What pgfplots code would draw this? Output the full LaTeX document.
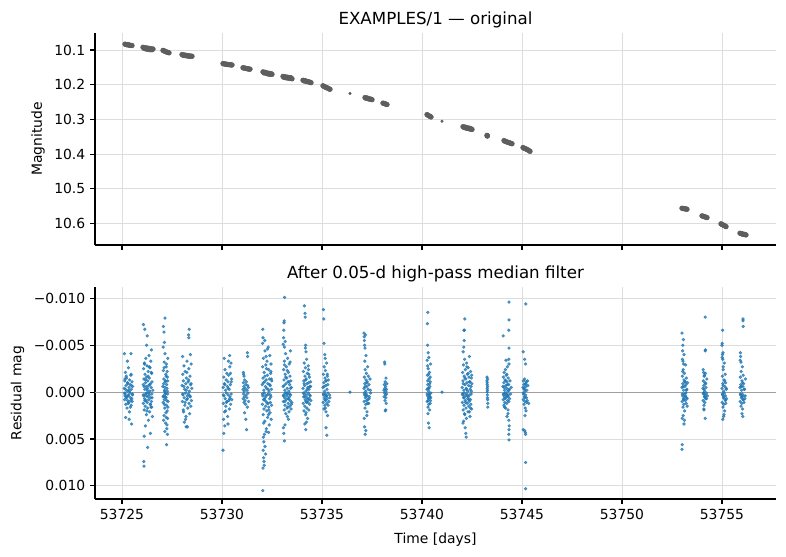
\documentclass[border=0pt]{standalone}
\usepackage{fontspec}
\setmainfont{DejaVu Sans}
\usepackage{pgfplots}
\pgfplotsset{compat=1.18}
\definecolor{mplblue}{HTML}{1F77B4}
\definecolor{ptgray}{HTML}{5E5E5E}
\definecolor{gridgray}{HTML}{DDDDDD}

\pgfplotsset{
  lcpanel/.style={
    scale only axis, width=490.3pt, height=152.6pt,
    xmin=53723.65, xmax=53757.7,
    y dir=reverse,
    axis lines*=left,
    axis line style={line width=0.8pt, black},
    tick align=outside, major tick length=3.5pt,
    every tick/.style={black, line width=0.8pt},
    xtick={53725,53730,53735,53740,53745,53750,53755},
    grid=major, grid style={gridgray, line width=0.6pt},
    tick label style={font=\fontsize{10}{12}\selectfont},
    label style={font=\fontsize{10}{12}\selectfont},
    xlabel style={yshift=-3pt},
    title style={font=\fontsize{12}{14}\selectfont, yshift=-6pt},
    /pgf/number format/assume math mode=true,
    scaled ticks=false,
  },
  resid/.style={only marks, mark=*, mark size=1.0pt, color=mplblue, opacity=0.75},
  mags/.style={only marks, mark=*, mark size=1.7pt, color=ptgray},
}

\begin{document}
\begin{tikzpicture}
\useasboundingbox (-68.4pt,-41.04pt) rectangle (497.5pt,359.3pt);

% ---------- upper panel: raw light curve ----------
\begin{axis}[lcpanel,
  at={(0pt,182.9pt)}, anchor=south west,
  ymin=10.051, ymax=10.662,
  ytick={10.1,10.2,10.3,10.4,10.5,10.6},
  yticklabels={10.1,10.2,10.3,10.4,10.5,10.6},
  xticklabels={},
  ylabel={Magnitude},
  title={EXAMPLES/1 — original},
]
\addplot[mags] coordinates {
(53725.15,10.083) (53725.20,10.084) (53725.25,10.085) (53725.30,10.084) (53725.35,10.086) (53725.40,10.086) (53725.45,10.087) (53725.50,10.087)
(53726.05,10.092) (53726.10,10.095) (53726.15,10.093) (53726.20,10.097) (53726.25,10.094) (53726.30,10.098) (53726.35,10.095) (53726.40,10.099) (53726.45,10.096) (53726.50,10.099) (53726.55,10.097)
(53727.05,10.101) (53727.10,10.102) (53727.15,10.104) (53727.20,10.105) (53727.25,10.106) (53727.30,10.107) (53727.35,10.108)
(53728.00,10.113) (53728.05,10.115) (53728.10,10.114) (53728.15,10.116) (53728.20,10.115) (53728.25,10.117) (53728.30,10.116) (53728.35,10.118) (53728.40,10.117) (53728.45,10.118) (53728.50,10.118)
(53730.05,10.139) (53730.10,10.140) (53730.15,10.140) (53730.20,10.141) (53730.25,10.141) (53730.30,10.142) (53730.35,10.142) (53730.40,10.142) (53730.45,10.143) (53730.50,10.143)
(53731.05,10.151) (53731.10,10.152) (53731.15,10.152) (53731.20,10.153) (53731.25,10.154) (53731.30,10.154) (53731.35,10.155) (53731.40,10.155)
(53732.05,10.163) (53732.10,10.166) (53732.15,10.164) (53732.20,10.167) (53732.25,10.166) (53732.30,10.169) (53732.35,10.167) (53732.40,10.170) (53732.45,10.168) (53732.50,10.170)
(53733.05,10.176) (53733.10,10.179) (53733.15,10.177) (53733.20,10.180) (53733.25,10.178) (53733.30,10.181) (53733.35,10.179) (53733.40,10.182) (53733.45,10.180) (53733.50,10.183)
(53734.05,10.187) (53734.10,10.189) (53734.15,10.188) (53734.20,10.190) (53734.25,10.191) (53734.30,10.191) (53734.35,10.192) (53734.40,10.193) (53734.45,10.194)
(53735.05,10.203) (53735.10,10.205) (53735.15,10.206) (53735.20,10.208) (53735.25,10.209) (53735.30,10.210) (53735.35,10.212) (53735.40,10.213)
(53737.15,10.237) (53737.20,10.239) (53737.25,10.238) (53737.30,10.240) (53737.35,10.241) (53737.40,10.241) (53737.45,10.242) (53737.50,10.243)
(53738.05,10.253) (53738.10,10.254) (53738.15,10.255) (53738.20,10.256) (53738.25,10.257)
(53740.25,10.286) (53740.30,10.288) (53740.35,10.290) (53740.40,10.291) (53740.45,10.293)
(53742.05,10.321) (53742.10,10.323) (53742.15,10.322) (53742.20,10.325) (53742.25,10.324) (53742.30,10.326) (53742.35,10.325) (53742.40,10.328) (53742.45,10.327) (53742.50,10.329)
(53743.25,10.346) (53743.26,10.347) (53743.27,10.348)
(53744.10,10.361) (53744.15,10.363) (53744.20,10.364) (53744.25,10.365) (53744.30,10.366) (53744.35,10.367) (53744.40,10.368) (53744.45,10.369) (53744.50,10.370)
(53745.05,10.381) (53745.10,10.383) (53745.15,10.384) (53745.20,10.385) (53745.25,10.387) (53745.30,10.388) (53745.35,10.390) (53745.40,10.392)
(53753.00,10.556) (53753.05,10.557) (53753.10,10.557) (53753.15,10.558) (53753.20,10.558) (53753.25,10.559)
(53754.00,10.578) (53754.05,10.579) (53754.10,10.580) (53754.15,10.581) (53754.20,10.582) (53754.25,10.583)
(53754.95,10.601) (53755.00,10.603) (53755.05,10.604) (53755.10,10.606) (53755.15,10.607) (53755.20,10.609)
(53755.90,10.628) (53755.95,10.629) (53756.00,10.630) (53756.05,10.631) (53756.10,10.631) (53756.15,10.632) (53756.20,10.633)
};
% isolated single exposures
\addplot[only marks, mark=*, mark size=0.9pt, color=ptgray] coordinates {(53736.40,10.225) (53741.00,10.305)};
\end{axis}

% ---------- lower panel: residuals after filtering ----------
\begin{axis}[lcpanel,
  at={(0pt,0pt)}, anchor=south west,
  ymin=-0.0112, ymax=0.0114,
  ytick={-0.01,-0.005,0,0.005,0.01},
  yticklabels={−0.010,−0.005,0.000,0.005,0.010},
  xticklabels={53725,53730,53735,53740,53745,53750,53755},
  xlabel={Time [days]},
  ylabel={Residual mag},
  title={After 0.05-d high-pass median filter},
]
% nights 1-4
\addplot[resid] coordinates {
(53725.11,-0.0004) (53725.13,0.0008) (53725.14,-0.0012) (53725.16,0.0002) (53725.17,-0.0021) (53725.19,0.0013) (53725.20,-0.0007) (53725.22,0.0005) (53725.23,-0.0015) (53725.25,0.0017) (53725.26,-0.0001) (53725.28,0.0009) (53725.29,-0.0009) (53725.31,0.0003) (53725.32,-0.0026) (53725.34,0.0011) (53725.35,-0.0005) (53725.37,0.0021) (53725.38,-0.0013) (53725.40,0.0001) (53725.41,-0.0008) (53725.43,0.0006) (53725.44,-0.0018) (53725.46,0.0014) (53725.47,-0.0003) (53725.49,0.0007) (53725.50,-0.0011) (53725.52,0.0002) (53725.53,-0.0006) (53725.12,-0.0041) (53725.45,-0.0041) (53725.18,0.0027) (53725.48,0.0034) (53725.27,-0.0033) (53725.36,0.0029) (53725.21,-0.0017) (53725.42,0.0016) (53725.15,0.0004) (53725.33,-0.0002) (53725.51,0.0010)
(53726.06,-0.0008) (53726.07,0.0012) (53726.08,-0.0025) (53726.09,0.0004) (53726.10,-0.0014) (53726.11,0.0019) (53726.12,-0.0031) (53726.13,0.0007) (53726.14,-0.0003) (53726.15,-0.0019) (53726.16,0.0015) (53726.17,-0.0010) (53726.18,0.0002) (53726.19,-0.0036) (53726.20,0.0009) (53726.21,-0.0006) (53726.22,0.0024) (53726.23,-0.0016) (53726.24,0.0001) (53726.25,-0.0028) (53726.26,0.0011) (53726.27,-0.0004) (53726.28,0.0017) (53726.29,-0.0012) (53726.30,0.0005) (53726.31,-0.0022) (53726.32,0.0030) (53726.33,-0.0007) (53726.34,0.0008) (53726.35,-0.0039) (53726.36,0.0003) (53726.37,-0.0015) (53726.38,0.0021) (53726.39,-0.0001) (53726.40,-0.0026) (53726.41,0.0013) (53726.42,-0.0009) (53726.43,0.0006) (53726.44,-0.0033) (53726.45,0.0016) (53726.46,-0.0005) (53726.47,0.0010) (53726.48,-0.0020) (53726.49,0.0002) (53726.50,-0.0011) (53726.52,0.0026) (53726.54,-0.0002) (53726.07,-0.0072) (53726.14,-0.0067) (53726.26,-0.0060) (53726.23,-0.0050) (53726.11,0.0047) (53726.28,0.0059) (53726.09,0.0074) (53726.10,0.0079) (53726.42,0.0044) (53726.17,0.0036) (53726.47,-0.0045)
(53727.05,-0.0006) (53727.06,0.0011) (53727.07,-0.0023) (53727.08,0.0004) (53727.09,-0.0014) (53727.10,0.0025) (53727.11,-0.0032) (53727.12,0.0008) (53727.13,-0.0002) (53727.14,0.0017) (53727.15,-0.0041) (53727.16,0.0001) (53727.17,-0.0011) (53727.18,0.0033) (53727.19,-0.0019) (53727.20,0.0006) (53727.21,-0.0027) (53727.22,0.0014) (53727.23,-0.0008) (53727.24,0.0039) (53727.25,-0.0004) (53727.26,0.0020) (53727.27,-0.0016) (53727.28,0.0002) (53727.29,-0.0036) (53727.30,0.0010) (53727.06,-0.0048) (53727.08,0.0030) (53727.12,-0.0053) (53727.14,0.0042) (53727.18,-0.0012) (53727.20,0.0022) (53727.22,-0.0030) (53727.25,0.0035) (53727.27,0.0045) (53727.10,-0.0064) (53727.07,-0.0070) (53727.15,-0.0079) (53727.23,0.0056) (53727.28,0.0028) (53727.13,-0.0001) (53727.17,0.0005) (53727.26,-0.0022)
(53728.01,-0.0007) (53728.02,0.0010) (53728.04,-0.0019) (53728.05,0.0003) (53728.07,-0.0012) (53728.08,0.0021) (53728.10,-0.0028) (53728.11,0.0006) (53728.13,-0.0003) (53728.14,0.0014) (53728.16,-0.0022) (53728.17,0.0001) (53728.19,-0.0009) (53728.20,0.0026) (53728.22,-0.0015) (53728.23,0.0008) (53728.25,-0.0033) (53728.26,0.0004) (53728.28,-0.0005) (53728.29,0.0017) (53728.31,-0.0011) (53728.32,0.0002) (53728.34,-0.0025) (53728.35,0.0012) (53728.37,-0.0001) (53728.38,0.0023) (53728.40,-0.0017) (53728.41,0.0005) (53728.43,-0.0008) (53728.44,0.0015) (53728.46,-0.0030) (53728.47,0.0009) (53728.49,-0.0004) (53728.03,-0.0038) (53728.12,0.0032) (53728.21,0.0037) (53728.27,0.0037) (53728.33,-0.0061) (53728.34,-0.0058) (53728.36,-0.0067) (53728.42,-0.0040) (53728.18,0.0029)
};
% nights 5-10
\addplot[resid] coordinates {
(53730.06,-0.0005) (53730.07,0.0012) (53730.09,-0.0016) (53730.10,0.0004) (53730.12,-0.0009) (53730.13,0.0021) (53730.15,-0.0024) (53730.16,0.0007) (53730.18,-0.0002) (53730.19,0.0015) (53730.21,-0.0013) (53730.22,0.0001) (53730.24,-0.0020) (53730.25,0.0010) (53730.27,-0.0006) (53730.28,0.0026) (53730.30,-0.0011) (53730.31,0.0003) (53730.33,-0.0018) (53730.34,0.0009) (53730.36,-0.0003) (53730.37,0.0018) (53730.39,-0.0027) (53730.40,0.0005) (53730.42,-0.0008) (53730.43,0.0013) (53730.45,-0.0031) (53730.46,0.0002) (53730.48,-0.0014) (53730.49,0.0008) (53730.11,-0.0036) (53730.38,-0.0039) (53730.08,0.0029) (53730.30,0.0034) (53730.09,0.0044) (53730.14,0.0036) (53730.05,0.0062) (53730.32,-0.0033)
(53731.05,-0.0003) (53731.06,0.0007) (53731.07,-0.0010) (53731.08,0.0002) (53731.09,-0.0006) (53731.10,0.0011) (53731.11,-0.0001) (53731.12,0.0005) (53731.13,-0.0013) (53731.15,0.0009) (53731.16,-0.0004) (53731.18,0.0013) (53731.19,-0.0008) (53731.21,0.0003) (53731.22,-0.0011) (53731.24,0.0006) (53731.25,-0.0002) (53731.27,0.0016) (53731.28,-0.0007) (53731.30,0.0001) (53731.32,-0.0005) (53731.33,0.0010) (53731.07,-0.0021) (53731.10,-0.0017) (53731.13,0.0022) (53731.19,0.0029) (53731.27,-0.0042) (53731.28,-0.0038) (53731.23,0.0040) (53731.08,-0.0019)
(53732.01,-0.0008) (53732.02,0.0013) (53732.03,-0.0027) (53732.04,0.0004) (53732.05,-0.0015) (53732.06,0.0024) (53732.07,-0.0036) (53732.08,0.0008) (53732.09,-0.0002) (53732.10,0.0018) (53732.11,-0.0021) (53732.12,0.0001) (53732.13,-0.0011) (53732.14,0.0031) (53732.15,-0.0044) (53732.16,0.0006) (53732.17,-0.0006) (53732.18,0.0015) (53732.19,-0.0029) (53732.20,0.0010) (53732.21,-0.0013) (53732.22,0.0039) (53732.23,-0.0004) (53732.24,0.0020) (53732.25,-0.0033) (53732.26,0.0003) (53732.27,-0.0018) (53732.28,0.0027) (53732.29,-0.0009) (53732.30,0.0012) (53732.31,-0.0048) (53732.32,0.0002) (53732.33,-0.0024) (53732.34,0.0016) (53732.35,-0.0001) (53732.36,0.0035) (53732.37,-0.0014) (53732.38,0.0007) (53732.39,-0.0039) (53732.40,0.0022) (53732.41,-0.0007) (53732.42,0.0011) (53732.43,-0.0020) (53732.44,0.0005) (53732.45,-0.0030) (53732.46,0.0029) (53732.47,-0.0003) (53732.48,0.0014) (53732.49,-0.0012) (53732.03,-0.0052) (53732.05,-0.0058) (53732.04,-0.0067) (53732.12,0.0045) (53732.07,0.0048) (53732.09,0.0053) (53732.15,0.0058) (53732.06,0.0062) (53732.08,0.0070) (53732.10,0.0074) (53732.05,0.0081) (53732.11,0.0078) (53732.18,0.0066) (53732.04,0.0105) (53732.21,0.0042) (53732.28,-0.0046) (53732.33,0.0043) (53732.14,-0.0055)
(53733.06,-0.0006) (53733.07,0.0010) (53733.08,-0.0024) (53733.09,0.0003) (53733.10,-0.0013) (53733.11,0.0019) (53733.12,-0.0033) (53733.13,0.0006) (53733.14,-0.0002) (53733.15,0.0014) (53733.16,-0.0019) (53733.17,0.0001) (53733.18,-0.0041) (53733.19,0.0023) (53733.20,-0.0009) (53733.21,0.0008) (53733.22,-0.0027) (53733.23,0.0004) (53733.24,-0.0015) (53733.25,0.0017) (53733.26,-0.0004) (53733.27,0.0026) (53733.28,-0.0036) (53733.29,0.0002) (53733.30,-0.0011) (53733.31,0.0012) (53733.32,-0.0021) (53733.33,0.0007) (53733.34,-0.0001) (53733.35,0.0021) (53733.36,-0.0030) (53733.37,0.0005) (53733.38,-0.0008) (53733.39,0.0015) (53733.40,-0.0017) (53733.41,0.0009) (53733.42,-0.0044) (53733.43,0.0003) (53733.44,-0.0012) (53733.45,0.0018) (53733.47,-0.0005) (53733.49,0.0011) (53733.06,-0.0051) (53733.08,-0.0058) (53733.09,-0.0066) (53733.10,-0.0074) (53733.11,-0.0076) (53733.13,-0.0101) (53733.12,-0.0048) (53733.16,-0.0054) (53733.07,0.0038) (53733.09,0.0044) (53733.12,0.0052) (53733.15,0.0035) (53733.32,0.0029)
(53734.05,-0.0004) (53734.06,0.0012) (53734.07,-0.0022) (53734.08,0.0005) (53734.09,-0.0012) (53734.10,0.0020) (53734.11,-0.0031) (53734.12,0.0002) (53734.13,-0.0007) (53734.14,0.0015) (53734.15,-0.0017) (53734.16,0.0008) (53734.17,-0.0026) (53734.18,0.0024) (53734.19,-0.0001) (53734.20,0.0010) (53734.21,-0.0014) (53734.22,0.0003) (53734.23,-0.0035) (53734.24,0.0017) (53734.25,-0.0009) (53734.26,0.0006) (53734.27,-0.0020) (53734.28,0.0028) (53734.29,-0.0005) (53734.30,0.0011) (53734.31,-0.0028) (53734.32,0.0001) (53734.33,-0.0010) (53734.34,0.0019) (53734.35,-0.0003) (53734.36,0.0007) (53734.37,-0.0016) (53734.38,0.0013) (53734.39,-0.0006) (53734.41,0.0004) (53734.43,-0.0011) (53734.44,0.0009) (53734.12,-0.0092) (53734.15,-0.0084) (53734.16,-0.0080) (53734.18,-0.0050) (53734.17,-0.0047) (53734.20,-0.0043) (53734.14,0.0034) (53734.19,0.0040) (53734.22,0.0032)
(53735.05,-0.0005) (53735.06,0.0011) (53735.07,-0.0019) (53735.08,0.0003) (53735.09,-0.0010) (53735.10,0.0018) (53735.11,-0.0027) (53735.12,0.0006) (53735.13,-0.0001) (53735.14,0.0014) (53735.15,-0.0015) (53735.16,0.0002) (53735.17,-0.0023) (53735.18,0.0009) (53735.19,-0.0007) (53735.20,0.0021) (53735.21,-0.0012) (53735.22,0.0004) (53735.23,-0.0031) (53735.24,0.0012) (53735.25,-0.0003) (53735.26,0.0007) (53735.27,-0.0017) (53735.28,0.0025) (53735.29,-0.0008) (53735.30,0.0001) (53735.32,-0.0013) (53735.34,0.0010) (53735.38,0.0003) (53735.39,0.0006) (53735.07,-0.0088) (53735.09,-0.0078) (53735.10,-0.0052) (53735.14,-0.0040) (53735.20,0.0038) (53735.24,0.0046) (53735.16,-0.0036)
};
% nights 11-17
\addplot[resid] coordinates {
(53736.40,0.0000) (53741.00,0.0000)
(53737.10,-0.0004) (53737.11,0.0010) (53737.12,-0.0016) (53737.13,0.0003) (53737.14,-0.0009) (53737.15,0.0017) (53737.16,-0.0024) (53737.17,0.0006) (53737.18,-0.0001) (53737.19,0.0013) (53737.20,-0.0013) (53737.21,0.0002) (53737.22,-0.0020) (53737.23,0.0009) (53737.24,-0.0006) (53737.25,0.0021) (53737.26,-0.0011) (53737.27,0.0004) (53737.28,-0.0027) (53737.29,0.0008) (53737.31,-0.0003) (53737.33,0.0012) (53737.35,-0.0008) (53737.37,0.0005) (53737.40,-0.0014) (53737.43,0.0001) (53737.10,-0.0063) (53737.11,-0.0059) (53737.12,-0.0055) (53737.13,-0.0050) (53737.15,-0.0047) (53737.17,-0.0061) (53737.14,-0.0033) (53737.20,-0.0039) (53737.11,0.0028) (53737.13,0.0037) (53737.16,0.0045) (53737.19,0.0041) (53737.24,0.0025)
(53738.10,-0.0002) (53738.11,0.0005) (53738.12,-0.0008) (53738.13,0.0001) (53738.14,-0.0004) (53738.15,0.0009) (53738.16,-0.0011) (53738.17,0.0003) (53738.18,-0.0006) (53738.19,0.0006) (53738.20,-0.0001) (53738.21,0.0012) (53738.22,-0.0003) (53738.23,0.0002) (53738.24,-0.0009) (53738.13,-0.0032) (53738.14,-0.0030) (53738.19,0.0019) (53738.16,0.0020) (53738.20,-0.0015)
(53740.25,-0.0003) (53740.26,0.0010) (53740.27,-0.0018) (53740.28,0.0004) (53740.29,-0.0008) (53740.30,0.0016) (53740.31,-0.0025) (53740.32,0.0007) (53740.33,-0.0001) (53740.34,0.0013) (53740.35,-0.0014) (53740.36,0.0002) (53740.37,-0.0021) (53740.38,0.0019) (53740.39,-0.0006) (53740.40,0.0005) (53740.41,-0.0011) (53740.42,0.0009) (53740.43,-0.0030) (53740.44,0.0001) (53740.26,-0.0034) (53740.28,-0.0028) (53740.30,0.0023) (53740.33,-0.0019) (53740.35,0.0006) (53740.38,-0.0009) (53740.41,0.0012) (53740.29,-0.0085) (53740.27,-0.0073) (53740.28,-0.0050) (53740.31,-0.0042) (53740.34,-0.0037) (53740.32,0.0033) (53740.36,0.0038) (53740.30,-0.0004)
(53742.01,-0.0005) (53742.02,0.0011) (53742.03,-0.0021) (53742.04,0.0003) (53742.05,-0.0012) (53742.06,0.0019) (53742.07,-0.0029) (53742.08,0.0006) (53742.09,-0.0002) (53742.10,0.0014) (53742.11,-0.0017) (53742.12,0.0001) (53742.13,-0.0035) (53742.14,0.0024) (53742.15,-0.0008) (53742.16,0.0009) (53742.17,-0.0024) (53742.18,0.0004) (53742.19,-0.0014) (53742.20,0.0017) (53742.21,-0.0004) (53742.22,0.0028) (53742.23,-0.0031) (53742.24,0.0002) (53742.25,-0.0010) (53742.26,0.0012) (53742.27,-0.0019) (53742.28,0.0007) (53742.29,-0.0001) (53742.30,0.0021) (53742.31,-0.0026) (53742.32,0.0005) (53742.33,-0.0007) (53742.34,0.0015) (53742.35,-0.0016) (53742.36,0.0010) (53742.37,-0.0038) (53742.38,0.0003) (53742.39,-0.0011) (53742.40,0.0026) (53742.41,-0.0003) (53742.42,0.0008) (53742.43,-0.0022) (53742.44,0.0013) (53742.45,-0.0006) (53742.46,0.0002) (53742.47,-0.0015) (53742.48,0.0018) (53742.49,-0.0009) (53742.06,-0.0043) (53742.09,-0.0048) (53742.11,-0.0055) (53742.10,-0.0066) (53742.12,-0.0066) (53742.14,-0.0078) (53742.05,0.0033) (53742.16,0.0038) (53742.19,0.0044) (53742.21,0.0048) (53742.08,0.0031)
(53743.25,-0.0016) (53743.25,-0.0012) (53743.26,-0.0008) (53743.26,-0.0004) (53743.26,0.0000) (53743.27,0.0003) (53743.27,-0.0002) (53743.27,0.0006) (53743.28,0.0008) (53743.28,-0.0006) (53743.28,-0.0014) (53743.29,0.0012) (53743.29,0.0016) (53743.26,-0.0010)
(53744.05,-0.0006) (53744.06,0.0008) (53744.07,-0.0016) (53744.08,0.0003) (53744.09,-0.0010) (53744.10,0.0014) (53744.11,-0.0021) (53744.12,0.0005) (53744.13,-0.0002) (53744.14,0.0011) (53744.15,-0.0013) (53744.16,0.0001) (53744.17,-0.0024) (53744.18,0.0017) (53744.19,-0.0007) (53744.20,0.0006) (53744.21,-0.0018) (53744.22,0.0002) (53744.23,-0.0004) (53744.24,0.0012) (53744.25,-0.0011) (53744.26,0.0004) (53744.27,-0.0027) (53744.28,0.0009) (53744.29,-0.0001) (53744.30,0.0019) (53744.31,-0.0015) (53744.32,0.0003) (53744.33,-0.0008) (53744.34,0.0010) (53744.36,-0.0003) (53744.38,0.0007) (53744.40,-0.0012) (53744.43,0.0002) (53744.46,-0.0005) (53744.06,-0.0060) (53744.35,-0.0096) (53744.35,-0.0077) (53744.34,-0.0066) (53744.35,-0.0047) (53744.34,-0.0035) (53744.35,-0.0030) (53744.34,0.0030) (53744.36,0.0036) (53744.35,0.0040) (53744.34,0.0045) (53744.35,0.0051) (53744.25,0.0026) (53744.30,0.0023) (53744.20,-0.0034)
(53745.05,-0.0005) (53745.06,0.0008) (53745.07,-0.0012) (53745.08,0.0002) (53745.09,-0.0008) (53745.10,0.0013) (53745.11,-0.0003) (53745.12,0.0005) (53745.13,-0.0014) (53745.14,0.0010) (53745.15,-0.0001) (53745.16,0.0017) (53745.17,-0.0009) (53745.18,0.0003) (53745.19,-0.0006) (53745.20,0.0020) (53745.21,-0.0011) (53745.22,0.0006) (53745.24,-0.0002) (53745.26,0.0009) (53745.29,-0.0007) (53745.33,0.0012) (53745.06,-0.0043) (53745.13,-0.0035) (53745.18,-0.0030) (53745.06,0.0040) (53745.13,0.0041) (53745.17,0.0043) (53745.18,0.0045) (53745.19,-0.0094) (53745.18,0.0075) (53745.18,0.0103) (53745.15,0.0025)
};
% nights 18-21
\addplot[resid] coordinates {
(53753.00,-0.0005) (53753.01,0.0010) (53753.02,-0.0017) (53753.03,0.0004) (53753.04,-0.0009) (53753.05,0.0016) (53753.06,-0.0024) (53753.07,0.0007) (53753.08,-0.0002) (53753.09,0.0013) (53753.10,-0.0013) (53753.11,0.0002) (53753.12,-0.0020) (53753.13,0.0020) (53753.14,-0.0006) (53753.15,0.0005) (53753.16,-0.0011) (53753.17,0.0009) (53753.18,-0.0029) (53753.19,0.0001) (53753.20,-0.0008) (53753.21,0.0012) (53753.22,-0.0015) (53753.23,0.0006) (53753.24,-0.0003) (53753.26,0.0015) (53753.28,-0.0010) (53753.02,-0.0035) (53753.05,-0.0033) (53753.08,-0.0030) (53753.10,-0.0040) (53753.03,-0.0044) (53753.04,-0.0050) (53753.00,-0.0063) (53753.07,-0.0056) (53753.01,0.0028) (53753.06,0.0025) (53753.12,0.0030) (53753.01,0.0056) (53753.00,0.0061) (53753.10,0.0034)
(53754.05,-0.0004) (53754.06,0.0009) (53754.07,-0.0012) (53754.08,0.0002) (53754.09,-0.0007) (53754.10,0.0014) (53754.11,-0.0017) (53754.12,0.0005) (53754.13,-0.0001) (53754.14,0.0011) (53754.15,-0.0010) (53754.16,0.0003) (53754.17,-0.0020) (53754.18,0.0007) (53754.20,-0.0005) (53754.22,0.0001) (53754.24,-0.0014) (53754.27,0.0004) (53754.06,-0.0024) (53754.08,-0.0021) (53754.10,0.0019) (53754.16,0.0028) (53754.16,-0.0044) (53754.17,-0.0045) (53754.16,-0.0080) (53754.12,-0.0018) (53754.09,0.0018)
(53755.00,-0.0004) (53755.01,0.0011) (53755.02,-0.0017) (53755.03,0.0003) (53755.04,-0.0009) (53755.05,0.0016) (53755.06,-0.0024) (53755.07,0.0006) (53755.08,-0.0001) (53755.09,0.0013) (53755.10,-0.0013) (53755.11,0.0001) (53755.12,-0.0031) (53755.13,0.0020) (53755.14,-0.0006) (53755.15,0.0008) (53755.16,-0.0019) (53755.17,0.0004) (53755.18,-0.0010) (53755.19,0.0012) (53755.21,-0.0003) (53755.23,0.0007) (53755.01,-0.0037) (53755.02,-0.0040) (53755.04,-0.0035) (53755.05,-0.0042) (53755.06,-0.0027) (53755.10,0.0024) (53755.04,0.0029) (53755.00,-0.0050) (53755.01,-0.0052) (53755.03,-0.0066) (53755.08,0.0026)
(53755.90,-0.0005) (53755.91,0.0010) (53755.92,-0.0016) (53755.93,0.0003) (53755.94,-0.0008) (53755.95,0.0015) (53755.96,-0.0022) (53755.97,0.0006) (53755.98,-0.0002) (53755.99,0.0012) (53756.00,-0.0012) (53756.01,0.0002) (53756.02,-0.0027) (53756.03,0.0018) (53756.04,-0.0006) (53756.05,0.0008) (53756.06,-0.0018) (53756.07,0.0004) (53756.08,-0.0009) (53756.10,0.0011) (53756.12,-0.0003) (53756.14,0.0007) (53756.17,-0.0014) (53755.91,-0.0034) (53755.93,-0.0038) (53755.95,-0.0032) (53756.00,0.0023) (53756.04,0.0026) (53756.05,-0.0076) (53756.06,-0.0070) (53756.05,-0.0078) (53755.92,-0.0042)
};
% interleaved exposures filling the dense cores of each night
\addplot[resid] coordinates {
(53725.125,0.0001) (53725.175,-0.0003) (53725.225,0.0006) (53725.275,-0.0010) (53725.325,0.0004) (53725.375,-0.0001) (53725.425,0.0009) (53725.475,-0.0007) (53725.525,0.0003) (53725.145,-0.0014) (53725.305,0.0012) (53725.455,-0.0019)
(53726.065,0.0003) (53726.105,-0.0006) (53726.145,0.0009) (53726.185,-0.0013) (53726.225,0.0004) (53726.265,-0.0002) (53726.305,-0.0017) (53726.345,0.0001) (53726.385,-0.0008) (53726.425,0.0013) (53726.465,-0.0021) (53726.505,0.0006) (53726.125,-0.0030) (53726.245,0.0020) (53726.365,-0.0027) (53726.485,0.0016)
(53727.055,0.0005) (53727.085,-0.0009) (53727.115,0.0013) (53727.145,-0.0005) (53727.175,0.0002) (53727.205,-0.0017) (53727.235,0.0009) (53727.265,-0.0001) (53727.295,0.0016) (53727.105,-0.0026) (53727.215,0.0027) (53727.285,-0.0012)
(53728.035,0.0002) (53728.095,-0.0006) (53728.155,0.0011) (53728.215,-0.0002) (53728.275,0.0007) (53728.335,-0.0013) (53728.395,0.0004) (53728.455,-0.0009) (53728.065,0.0019) (53728.245,-0.0021)
(53730.065,0.0003) (53730.145,-0.0008) (53730.225,0.0011) (53730.305,-0.0004) (53730.385,0.0007) (53730.465,-0.0011) (53730.185,0.0020) (53730.425,-0.0020)
(53732.025,0.0002) (53732.065,-0.0010) (53732.105,0.0008) (53732.145,-0.0017) (53732.185,0.0004) (53732.225,-0.0025) (53732.265,0.0012) (53732.305,-0.0003) (53732.345,0.0019) (53732.385,-0.0008) (53732.425,0.0003) (53732.465,-0.0014) (53732.085,0.0033) (53732.205,-0.0038) (53732.325,0.0024) (53732.445,-0.0022)
(53733.065,0.0004) (53733.105,-0.0007) (53733.145,0.0010) (53733.185,-0.0016) (53733.225,0.0001) (53733.265,-0.0023) (53733.305,0.0007) (53733.345,-0.0011) (53733.385,0.0002) (53733.425,-0.0004) (53733.465,0.0013) (53733.125,-0.0029) (53733.285,0.0016) (53733.405,-0.0032)
(53734.065,0.0001) (53734.105,-0.0009) (53734.145,0.0005) (53734.185,-0.0013) (53734.225,0.0011) (53734.265,-0.0003) (53734.305,0.0008) (53734.345,-0.0019) (53734.385,0.0003) (53734.425,-0.0006) (53734.205,0.0022) (53734.325,-0.0024)
(53735.065,0.0002) (53735.105,-0.0006) (53735.145,0.0008) (53735.185,-0.0012) (53735.225,0.0004) (53735.265,-0.0019) (53735.305,0.0014) (53735.165,0.0017)
(53737.115,0.0001) (53737.155,-0.0006) (53737.195,0.0004) (53737.235,-0.0010) (53737.275,0.0012) (53737.315,-0.0017) (53737.355,0.0007) (53737.415,-0.0002)
(53740.255,0.0002) (53740.285,-0.0012) (53740.315,0.0009) (53740.345,-0.0004) (53740.375,0.0003) (53740.405,-0.0016) (53740.435,0.0006)
(53742.025,0.0002) (53742.065,-0.0009) (53742.105,0.0006) (53742.145,-0.0015) (53742.185,0.0011) (53742.225,-0.0003) (53742.265,0.0004) (53742.305,-0.0020) (53742.345,0.0008) (53742.385,-0.0011) (53742.425,0.0017) (53742.465,-0.0001) (53742.125,0.0023) (53742.245,-0.0027) (53742.365,0.0021) (53742.485,-0.0018)
(53744.065,0.0002) (53744.105,-0.0005) (53744.145,0.0007) (53744.185,-0.0012) (53744.225,0.0003) (53744.265,-0.0008) (53744.305,0.0005) (53744.345,-0.0002) (53744.125,0.0016) (53744.245,-0.0019)
(53745.065,0.0001) (53745.105,-0.0004) (53745.145,0.0006) (53745.185,-0.0009) (53745.225,0.0011) (53745.275,-0.0012)
(53753.015,0.0002) (53753.055,-0.0006) (53753.095,0.0008) (53753.135,-0.0011) (53753.175,0.0004) (53753.215,-0.0002) (53753.255,0.0007) (53753.035,-0.0022)
(53754.065,0.0001) (53754.105,-0.0003) (53754.145,0.0005) (53754.185,-0.0009) (53754.225,0.0007)
(53755.015,0.0002) (53755.055,-0.0007) (53755.095,0.0005) (53755.135,-0.0012) (53755.175,0.0009) (53755.215,-0.0004)
(53755.915,0.0002) (53755.955,-0.0006) (53755.995,0.0005) (53756.035,-0.0010) (53756.075,0.0008) (53756.115,-0.0003) (53756.155,0.0004)
};
% zero reference
\addplot[gray!75, line width=0.7pt, forget plot] coordinates {(53723.65,0) (53757.7,0)};
\end{axis}
\end{tikzpicture}
\end{document}
